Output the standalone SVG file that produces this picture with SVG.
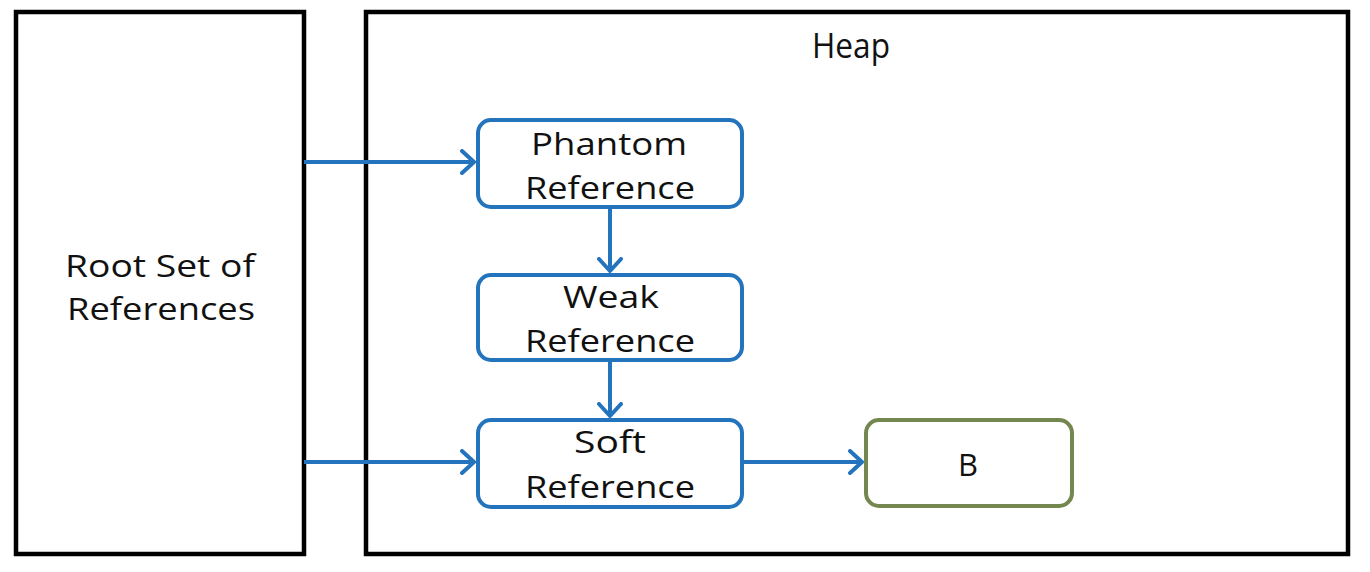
<svg xmlns="http://www.w3.org/2000/svg" width="1370" height="572" viewBox="0 0 1370 572">
<style>
.outer{fill:#fff;stroke:#000;stroke-width:4.5}
.ref{fill:#fff;stroke:#2373BD;stroke-width:4}
.obj{fill:#fff;stroke:#74874F;stroke-width:4}
text{font-family:"Open Sans","Noto Sans","DejaVu Sans",sans-serif;font-size:31px;fill:#111;text-anchor:middle}
.conn line{stroke:#2373BD;stroke-width:4}
</style>
<defs>
<marker id="arr" markerWidth="20" markerHeight="26" refX="14" refY="13" orient="auto" markerUnits="userSpaceOnUse">
<path d="M2,2 L14,13 L2,24" fill="none" stroke="#2373BD" stroke-width="4" stroke-linecap="round" stroke-linejoin="round"/>
</marker>
</defs>
<rect width="1370" height="572" fill="#fff"/>
<g id="root"><rect class="outer" x="16" y="12" width="288" height="542"/>
<text x="160" y="277" textLength="190" lengthAdjust="spacingAndGlyphs">Root Set of</text><text x="161" y="320" textLength="188" lengthAdjust="spacingAndGlyphs">References</text></g>
<g id="heap"><rect class="outer" x="366" y="12" width="982" height="542"/>
<text x="851" y="58" style="font-size:35px" textLength="78" lengthAdjust="spacingAndGlyphs">Heap</text></g>
<g id="phantom"><rect class="ref" x="478" y="120" width="264" height="87" rx="13"/>
<text x="609" y="155" textLength="156" lengthAdjust="spacingAndGlyphs">Phantom</text><text x="610" y="199" textLength="170" lengthAdjust="spacingAndGlyphs">Reference</text></g>
<g id="weak"><rect class="ref" x="478" y="275" width="264" height="85" rx="13"/>
<text x="611" y="308" textLength="96" lengthAdjust="spacingAndGlyphs">Weak</text><text x="610" y="352" textLength="170" lengthAdjust="spacingAndGlyphs">Reference</text></g>
<g id="soft"><rect class="ref" x="478" y="420" width="264" height="87" rx="13"/>
<text x="610" y="453" textLength="72" lengthAdjust="spacingAndGlyphs">Soft</text><text x="610" y="498" textLength="170" lengthAdjust="spacingAndGlyphs">Reference</text></g>
<g id="b"><rect class="obj" x="866" y="420" width="206" height="86" rx="13"/>
<text x="968" y="476" textLength="20" lengthAdjust="spacingAndGlyphs">B</text></g>
<g class="conn" id="connectors">
<line x1="304" y1="162" x2="474" y2="162" marker-end="url(#arr)"/>
<line x1="304" y1="462" x2="474" y2="462" marker-end="url(#arr)"/>
<line x1="610" y1="207" x2="610" y2="271" marker-end="url(#arr)"/>
<line x1="610" y1="360" x2="610" y2="416" marker-end="url(#arr)"/>
<line x1="742" y1="462" x2="862" y2="462" marker-end="url(#arr)"/>
</g>
</svg>
